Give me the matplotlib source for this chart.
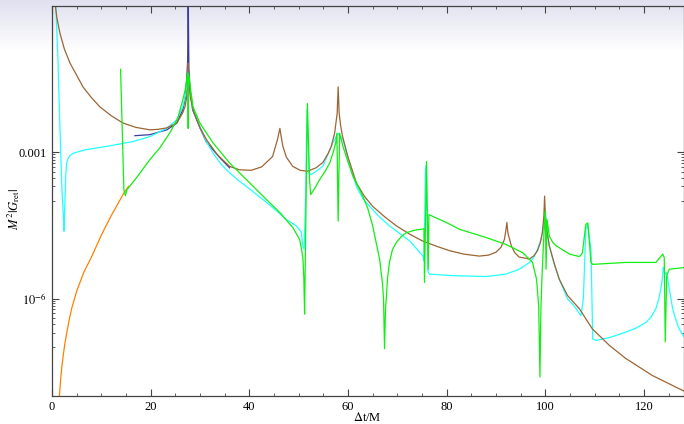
import numpy as np
import matplotlib
matplotlib.use("Agg")
import matplotlib.pyplot as plt
from matplotlib.ticker import FixedLocator, NullFormatter

plt.rcParams['font.family'] = ['Liberation Serif', 'DejaVu Serif']
plt.rcParams['mathtext.fontset'] = 'stix'

# values: x = dt/M, y given as log10(M^2 |G_ret|)
orange_x = [1.5, 1.65, 1.8, 2.0, 2.3, 2.6, 3.0, 3.5, 4.0, 5.0, 6.5, 8.0, 10.0, 12.0, 14.5, 15.5]
orange_log = [-8.0, -7.8, -7.6, -7.4, -7.15, -6.93, -6.7, -6.43, -6.2, -5.85, -5.45, -5.15,
              -4.7, -4.3, -3.85, -3.7]

blue_x = [16.8, 19.8, 23.3, 25.3, 26.5, 27.0, 27.3, 27.5, 27.6, 27.75, 28.0, 28.5, 30.0,
          31.3, 34.0, 36.0]
blue_log = [-2.66, -2.64, -2.54, -2.40, -2.13, -1.9, -1.52, -1.1, 0.3, -1.3, -1.72, -2.13,
            -2.5, -2.79, -3.11, -3.32]

brown_x = [0.5, 1.0, 1.62, 2.5, 3.64, 5.0, 6.28, 8.0, 9.72, 12.0, 14.37, 17.0, 19.84, 21.5,
           23.28, 25.3, 26.5, 27.0, 27.3, 27.5, 27.6, 27.75, 28.0, 28.6, 30.0, 31.3, 33.5,
           36.0, 38.0, 40.4, 42.5, 44.7, 45.7, 46.0, 46.2, 46.4, 46.8, 47.5, 48.8, 50.3,
           51.8, 53.5, 54.9, 56.0, 56.6, 57.3, 57.8, 58.0, 58.2, 58.5, 58.9, 60.0, 61.7,
           63.3, 65.0, 67.5, 69.8, 72.5, 75.1, 78.0, 80.6, 83.5, 86.6, 88.5, 90.0, 91.0,
           91.7, 92.0, 92.2, 92.4, 93.1, 93.8, 94.7, 96.8, 97.7, 98.4, 99.0, 99.4, 99.7,
           99.85, 100.0, 100.3, 100.8, 101.8, 102.8, 104.5, 106.9, 109.5, 112.96, 116.3,
           121.7, 127.7, 128.5]
brown_log = [0.15, -0.25, -0.56, -0.88, -1.17, -1.42, -1.66, -1.88, -2.07, -2.25, -2.40, -2.49,
             -2.54, -2.53, -2.50, -2.40, -2.19, -2.05, -1.87, -1.6, -1.17, -1.55, -1.85, -2.13,
             -2.5, -2.74, -3.05, -3.29, -3.36, -3.37, -3.30, -3.09, -2.74, -2.6, -2.51, -2.65,
             -2.88, -3.1, -3.29, -3.37, -3.39, -3.32, -3.21, -3.02, -2.88, -2.6, -2.2, -1.66,
             -2.2, -2.45, -2.68, -3.1, -3.63, -3.9, -4.11, -4.33, -4.51, -4.68, -4.82, -4.93,
             -5.02, -5.09, -5.13, -5.11, -5.05, -4.95, -4.79, -4.6, -4.44, -4.65, -4.92, -5.06,
             -5.15, -5.19, -5.12, -5.02, -4.85, -4.64, -4.3, -3.9, -4.3, -4.6, -4.92, -5.28,
             -5.60, -5.94, -6.21, -6.62, -6.96, -7.23, -7.58, -7.88, -7.92]

cyan_x = [0.75, 1.21, 1.62, 2.02, 2.29, 2.43, 2.63, 2.8, 2.98, 3.3, 3.64, 4.31, 6.68, 11.07,
          16.4, 19.84, 23.2, 25.24, 26.5, 27.0, 27.27, 27.45, 27.6, 27.75, 27.93, 28.5, 29.96,
          31.3, 32.6, 34.3, 36.0, 37.7, 39.4, 41.5, 43.5, 45.5, 47.5, 49.5, 50.55, 50.8,
          51.1, 51.4, 51.7, 52.1, 52.57, 54.9, 56.9, 57.95, 58.97, 60.3, 61.7, 63.0, 64.4,
          66.4, 68.4, 72.5, 75.2, 75.4, 75.7, 75.9, 76.2, 76.5, 81.2, 88.0, 92.0, 94.7,
          96.8, 97.7, 98.4, 99.0, 99.45, 99.75, 100.0, 100.25, 100.8, 101.8, 102.8, 104.5,
          105.5, 107.2, 107.7, 108.2, 108.6, 109.25, 109.6, 110.3, 113.0, 116.3, 118.5,
          120.4, 121.5, 122.4, 123.0, 123.4, 123.7, 123.9, 124.2, 124.6, 125.2, 125.8,
          126.5, 127.1, 128.5]
cyan_log = [0.1, -1.11, -2.54, -3.77, -4.28, -4.62, -3.97, -3.45, -3.22, -3.12, -3.07, -3.02,
            -2.95, -2.88, -2.78, -2.68, -2.51, -2.34, -2.07, -1.85, -1.72, -1.5, -1.32, -1.5,
            -1.72, -2.1, -2.47, -2.78, -3.01, -3.25, -3.42, -3.57, -3.70, -3.87, -4.03, -4.2,
            -4.38, -4.51, -4.64, -4.92, -4.99, -3.97, -2.13, -3.42, -3.46, -3.29, -2.81, -2.61,
            -2.74, -3.25, -3.70, -3.95, -4.11, -4.33, -4.51, -4.82, -5.13, -5.23, -3.36, -3.26,
            -5.44, -5.50, -5.53, -5.55, -5.50, -5.40, -5.26, -5.15, -4.99, -4.82, -4.65, -4.4,
            -4.24, -4.55, -4.92, -5.3, -5.60, -6.01, -6.11, -6.35, -6.01, -4.58, -4.48, -4.99,
            -6.83, -6.86, -6.8, -6.69, -6.6, -6.49, -6.37, -6.21, -6.0, -5.81, -5.6, -5.36,
            -5.50, -5.47, -5.85, -6.21, -6.45, -6.62, -6.85]

green_x = [13.9, 14.57, 14.88, 15.18, 17.15, 19.84, 21.86, 23.9, 25.5, 26.5, 27.0, 27.27,
           27.53, 27.58, 27.6, 27.63, 27.75, 27.93, 28.6, 29.96, 32.65, 36.0, 39.4, 42.77,
           46.2, 48.85, 50.2, 50.6, 50.87, 51.05, 51.2, 51.5, 51.76, 52.2, 52.43, 53.2,
           54.25, 55.3, 56.3, 57.0, 57.5, 57.75, 58.0, 58.3, 58.97, 60.0, 61.0, 63.0, 64.0,
           65.0, 66.4, 67.0, 67.2, 67.4, 67.6, 67.75, 68.0, 68.4, 69.0, 69.8, 70.8, 71.8,
           73.5, 75.4, 75.5, 75.9, 76.25, 76.4, 79.9, 82.6, 88.0, 92.0, 95.4, 97.4, 98.2,
           98.65, 98.9, 99.1, 99.3, 99.6, 99.8, 100.0, 100.14, 100.34, 100.8, 101.5, 102.2,
           104.9, 106.9, 107.5, 108.2, 108.6, 109.25, 109.6, 116.3, 122.4, 123.8, 124.1,
           124.3, 124.6, 125.1, 128.5]
green_log = [-1.30, -3.77, -3.89, -3.77, -3.52, -3.15, -2.91, -2.60, -2.30, -1.93, -1.72, -1.52,
             -1.37, -1.40, -2.51, -1.40, -1.42, -1.6, -2.07, -2.40, -2.81, -3.22, -3.56, -3.90,
             -4.24, -4.55, -4.79, -5.0, -5.19, -5.6, -6.32, -3.97, -2.00, -3.56, -3.87, -3.75,
             -3.56, -3.4, -3.22, -3.0, -2.81, -2.61, -4.41, -2.61, -2.88, -3.2, -3.49, -3.90,
             -4.15, -4.51, -5.19, -5.7, -6.01, -7.03, -6.2, -6.01, -5.6, -5.26, -5.0, -4.85,
             -4.73, -4.65, -4.6, -4.57, -5.67, -3.19, -5.40, -4.28, -4.44, -4.58, -4.75, -4.89,
             -5.06, -5.26, -5.60, -6.15, -7.61, -6.2, -5.6, -4.9, -4.51, -4.21, -5.40, -4.38,
             -4.72, -4.85, -4.92, -5.09, -5.14, -5.07, -4.48, -4.45, -5.26, -5.30, -5.26, -5.26,
             -5.09, -5.16, -6.89, -5.53, -5.40, -5.36]

series = [
    (orange_x, orange_log, '#FF8000'),
    (blue_x, blue_log, '#3C3C9E'),
    (cyan_x, cyan_log, '#22FFFF'),
    (brown_x, brown_log, '#9C6535'),
    (green_x, green_log, '#11EE11'),
]

fig = plt.figure(figsize=(6.84, 4.24), dpi=100)

# light lavender band at the top of the screenshot
bg = fig.add_axes([0, 0, 1, 1], zorder=-1)
rows = np.linspace(0, 1, 424)
fade = np.clip(1 - rows / 0.12, 0, 1)
top = np.array([0.88, 0.88, 0.94])
img = 1 - fade[:, None] * (1 - top[None, :])
bg.imshow(img[:, None, :], aspect='auto', extent=[0, 1, 0, 1], origin='upper')
bg.axis('off')

ax = fig.add_axes([52 / 684, 28 / 424, 631.5 / 684, 390 / 424])
ax.patch.set_alpha(0)

for xs, ls, c in series:
    ax.plot(xs, 10.0 ** np.array(ls), color=c, lw=0.9)

ax.set_yscale('log')
ax.set_xlim(0, 128)
ax.set_ylim(1e-8, 1)

ax.set_xticks([0, 20, 40, 60, 80, 100, 120])
ax.set_xticks(np.arange(0, 129, 5), minor=True)
ax.yaxis.set_major_locator(FixedLocator([1e-6, 1e-3]))
ax.set_yticklabels([r'$10^{-6}$', '0.001'])
minor_y = [m * 1e-7 for m in range(1, 10)] + [m * 1e-4 for m in range(1, 10)]
ax.yaxis.set_minor_locator(FixedLocator(minor_y))
ax.yaxis.set_minor_formatter(NullFormatter())

for s in ax.spines.values():
    s.set_color('#444444')
    s.set_linewidth(0.9)
ax.tick_params(which='both', direction='in', top=True, right=True, colors='#444444',
               labelcolor='black', labelsize=9)
ax.tick_params(which='major', length=5, width=0.8)
ax.tick_params(which='minor', length=2.5, width=0.6)

ax.set_xlabel(r'$\Delta$t/M', fontsize=9)
ax.xaxis.set_label_coords(0.5, -0.038)
ax.set_ylabel(r'$M^2|G_{\rm ret}|$', fontsize=9)
ax.yaxis.set_label_coords(-0.047, 0.48)

fig.savefig('out.png', dpi=100)
